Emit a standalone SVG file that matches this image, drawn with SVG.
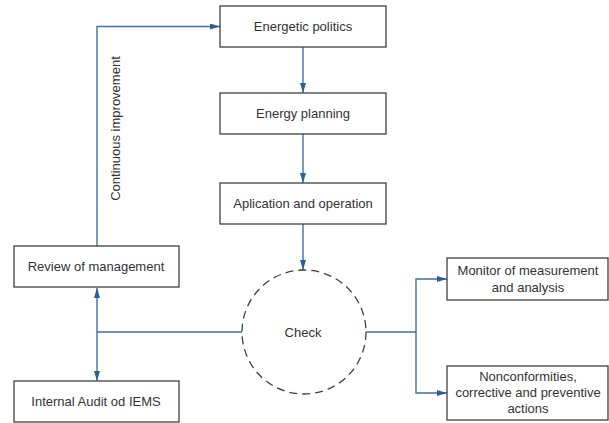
<svg xmlns="http://www.w3.org/2000/svg" width="609" height="423" viewBox="0 0 609 423">
<style>
.box{fill:#fff;stroke:#404040;stroke-width:1.3}
.t{font-family:"Liberation Sans",Arial,sans-serif;font-size:13px;fill:#333;text-anchor:middle}
.c{fill:none;stroke:#3f70a3;stroke-width:1.4}
</style>
<defs>
<marker id="ah" viewBox="0 0 10 6" refX="10" refY="3" markerWidth="10" markerHeight="6" markerUnits="userSpaceOnUse" orient="auto">
<path d="M0,0 L10,3 L0,6 Z" fill="#2b5f96"/>
</marker>
</defs>
<rect width="609" height="423" fill="#fff"/>
<g id="connectors">
<path class="c" d="M303,47 V93" marker-end="url(#ah)"/>
<path class="c" d="M303,134 V183" marker-end="url(#ah)"/>
<path class="c" d="M303,224 V270" marker-end="url(#ah)"/>
<path class="c" d="M97,246 V26.5 H220" marker-end="url(#ah)"/>
<path class="c" d="M242,332 H97"/>
<path class="c" d="M97,332 V288" marker-end="url(#ah)"/>
<path class="c" d="M97,332 V381" marker-end="url(#ah)"/>
<path class="c" d="M366,332 H416"/>
<path class="c" d="M416,332 V279 H447" marker-end="url(#ah)"/>
<path class="c" d="M416,332 V393 H447" marker-end="url(#ah)"/>
</g>
<text class="t" transform="translate(120,128.5) rotate(-90)">Continuous improvement</text>
<g id="energetic-politics">
<rect class="box" x="220" y="6" width="166" height="41"/>
<text class="t" x="303" y="31">Energetic politics</text>
</g>
<g id="energy-planning">
<rect class="box" x="220" y="93" width="166" height="41"/>
<text class="t" x="303" y="118">Energy planning</text>
</g>
<g id="aplication-operation">
<rect class="box" x="220" y="183" width="166" height="41"/>
<text class="t" x="303" y="208">Aplication and operation</text>
</g>
<g id="check">
<circle cx="304" cy="332" r="62" fill="#fff" stroke="#404040" stroke-width="1.3" stroke-dasharray="8,5"/>
<text class="t" x="303" y="337">Check</text>
</g>
<g id="review-management">
<rect class="box" x="14" y="246" width="165" height="41"/>
<text class="t" x="96" y="271">Review of management</text>
</g>
<g id="internal-audit">
<rect class="box" x="14" y="381" width="165" height="41"/>
<text class="t" x="96" y="406">Internal Audit od IEMS</text>
</g>
<g id="monitor">
<rect class="box" x="447" y="258" width="161" height="42"/>
<text class="t" x="528" y="275">Monitor of measurement</text>
<text class="t" x="528" y="292">and analysis</text>
</g>
<g id="nonconformities">
<rect class="box" x="447" y="366" width="161" height="54"/>
<text class="t" x="528" y="381">Nonconformities,</text>
<text class="t" x="528" y="397">corrective and preventive</text>
<text class="t" x="528" y="413">actions</text>
</g>
</svg>
